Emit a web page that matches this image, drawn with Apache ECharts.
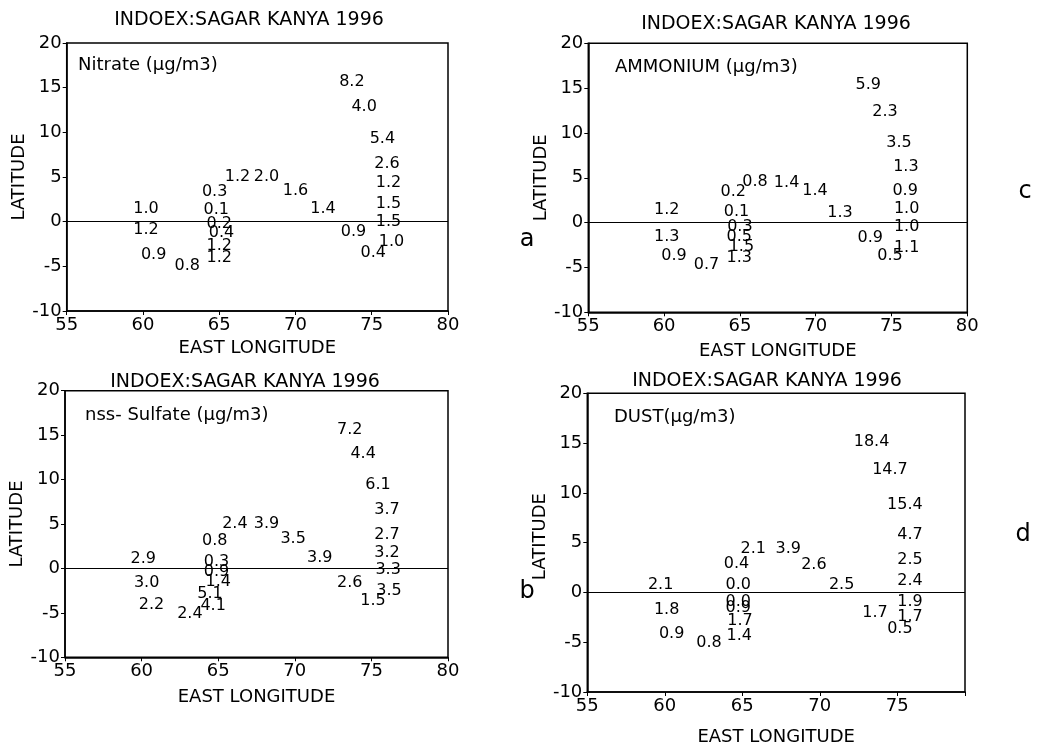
<!DOCTYPE html>
<html>
<head>
<meta charset="utf-8">
<script src="https://cdn.jsdelivr.net/npm/echarts@6/dist/echarts.min.js"></script>
<style>
html,body{margin:0;padding:0;background:#fff;}
#chart{width:1040px;height:747px;}
</style>
</head>
<body>
<div id="chart"></div>
<script>
// ---- Data ----
const panelTitle = 'INDOEX:SAGAR KANYA 1996';
const panelNames = ['Nitrate (\u03bcg/m3)', 'AMMONIUM (\u03bcg/m3)', 'nss- Sulfate (\u03bcg/m3)', 'DUST(\u03bcg/m3)'];
const panelLetters = ['a', 'c', 'b', 'd'];
const xTicks = [55, 60, 65, 70, 75, 80];
const yTicks = [-10, -5, 0, 5, 10, 15, 20];

// Nitrate
const nitrateLon = [73.7, 74.5, 75.7, 76.0, 76.1, 76.1, 76.1, 76.3, 75.1, 73.8, 71.8, 70.0, 68.1, 66.2, 64.7, 64.8, 65.0, 65.15, 65.0, 65.0, 60.2, 60.2, 60.7, 62.9];
const nitrateLat = [15.7, 12.9, 9.3, 6.45, 4.35, 1.97, 0.0, -2.25, -3.5, -1.1, 1.4, 3.5, 5.0, 5.0, 3.35, 1.3, -0.27, -1.3, -2.7, -4.1, 1.4, -0.9, -3.75, -4.9];
const nitrateVal = [8.2, 4.0, 5.4, 2.6, 1.2, 1.5, 1.5, 1.0, 0.4, 0.9, 1.4, 1.6, 2.0, 1.2, 0.3, 0.1, 0.2, 0.4, 1.2, 1.2, 1.0, 1.2, 0.9, 0.8];

// Ammonium
const ammoniumLon = [73.47, 74.57, 75.5, 75.95, 75.9, 76.0, 76.0, 76.0, 74.9, 73.6, 71.6, 69.95, 68.08, 66.0, 64.56, 64.78, 65.0, 64.96, 65.1, 64.96, 60.17, 60.17, 60.65, 62.8];
const ammoniumLat = [15.35, 12.38, 8.9, 6.25, 3.57, 1.49, -0.52, -2.86, -3.72, -1.75, 1.04, 3.57, 4.46, 4.57, 3.46, 1.23, -0.45, -1.56, -2.68, -3.98, 1.41, -1.64, -3.72, -4.72];
const ammoniumVal = [5.9, 2.3, 3.5, 1.3, 0.9, 1.0, 1.0, 1.1, 0.5, 0.9, 1.3, 1.4, 1.4, 0.8, 0.2, 0.1, 0.3, 0.5, 1.5, 1.3, 1.2, 1.3, 0.9, 0.7];

// nss-Sulfate
const sulfateLon = [73.59, 74.46, 75.43, 76.02, 76.02, 76.02, 76.09, 76.15, 75.1, 73.59, 71.63, 69.89, 68.15, 66.09, 64.78, 64.89, 64.89, 65.0, 64.46, 64.67, 60.11, 60.33, 60.65, 63.15];
const sulfateLat = [15.58, 12.88, 9.39, 6.58, 3.76, 1.7, -0.17, -2.54, -3.66, -1.6, 1.14, 3.28, 5.0, 5.0, 3.13, 0.76, -0.36, -1.56, -2.87, -4.22, 1.03, -1.67, -4.11, -5.16];
const sulfateVal = [7.2, 4.4, 6.1, 3.7, 2.7, 3.2, 3.3, 3.5, 1.5, 2.6, 3.9, 3.5, 3.9, 2.4, 0.8, 0.3, 0.9, 1.4, 5.1, 4.1, 2.9, 3.0, 2.2, 2.4];

// Dust
const dustLon = [73.34, 74.53, 75.49, 75.82, 75.82, 75.82, 75.82, 75.82, 75.17, 73.56, 71.41, 69.62, 67.97, 65.71, 64.63, 64.74, 64.74, 64.74, 64.85, 64.8, 59.73, 60.12, 60.44, 62.85];
const dustLat = [15.17, 12.33, 8.83, 5.83, 3.27, 1.17, -0.9, -2.5, -3.67, -2.0, 0.73, 2.73, 4.33, 4.33, 2.83, 0.73, -0.9, -1.55, -2.9, -4.33, 0.73, -1.73, -4.17, -5.07];
const dustVal = [18.4, 14.7, 15.4, 4.7, 2.5, 2.4, 1.9, 1.7, 0.5, 1.7, 2.5, 2.6, 3.9, 2.1, 0.4, 0.0, 0.0, 0.9, 1.7, 1.4, 2.1, 1.8, 0.9, 0.8];

// ---- Layout ----
const FONT = 'DejaVu Sans';
const grids = [
  {left: 66.7, top: 43, width: 381.3, height: 268},
  {left: 588.3, top: 43.3, width: 379, height: 269},
  {left: 65, top: 390.7, width: 383, height: 266.6},
  {left: 587.3, top: 393.3, width: 377.7, height: 300}
];
const xMax = [80, 80, 80, 79.37];
const xNameGap = [28, 30, 31, 36];
const panels = [
  [nitrateLon, nitrateLat, nitrateVal],
  [ammoniumLon, ammoniumLat, ammoniumVal],
  [sulfateLon, sulfateLat, sulfateVal],
  [dustLon, dustLat, dustVal]
];
const titlePos = [[249, 20], [776, 24], [245, 382], [767, 381]];
const namePos = [[78, 65], [615, 67], [85, 415], [614, 417]];
const letterPos = [[527, 240], [1025, 192], [527, 592], [1023, 535]];

const option = {
  backgroundColor: '#fff',
  animation: false,
  textStyle: {fontFamily: FONT, color: '#000'},
  grid: grids.map(g => Object.assign({show: true, borderColor: '#000', borderWidth: 1.5, backgroundColor: 'transparent'}, g)),
  xAxis: grids.map((g, i) => ({
    type: 'value', gridIndex: i, min: xTicks[0], max: xMax[i], interval: 5,
    name: 'EAST LONGITUDE', nameLocation: 'middle', nameGap: xNameGap[i],
    nameTextStyle: {fontFamily: FONT, fontSize: 18, color: '#000'},
    axisLine: {show: true, onZero: false, lineStyle: {color: '#000', width: 1.5}},
    axisTick: {show: true, inside: false, length: 4, lineStyle: {color: '#000'}},
    axisLabel: {fontFamily: FONT, fontSize: 18, color: '#000', margin: 5,
      formatter: v => (xTicks.indexOf(v) >= 0 ? String(v) : '')},
    splitLine: {show: false}
  })),
  yAxis: grids.map((g, i) => ({
    type: 'value', gridIndex: i, min: yTicks[0], max: yTicks[yTicks.length - 1], interval: 5,
    name: 'LATITUDE', nameLocation: 'middle', nameGap: 36, nameRotate: 90,
    nameTextStyle: {fontFamily: FONT, fontSize: 18, color: '#000', padding: [0, 0, 0, i === 3 ? 12 : 0]},
    axisLine: {show: true, onZero: false, lineStyle: {color: '#000', width: 1.5}},
    axisTick: {show: true, inside: false, length: 4, lineStyle: {color: '#000'}},
    axisLabel: {fontFamily: FONT, fontSize: 18, color: '#000', margin: 5},
    splitLine: {show: false}
  })),
  series: panels.map((p, i) => ({
    type: 'scatter', xAxisIndex: i, yAxisIndex: i,
    symbolSize: 0,
    itemStyle: {color: '#000', opacity: 1},
    data: p[0].map((lon, k) => [lon, p[1][k], p[2][k]]),
    label: {show: true, position: 'inside', fontFamily: FONT, fontSize: 16, color: '#000',
      opacity: 1, textBorderWidth: 0,
      formatter: d => d.value[2].toFixed(1)},
    markLine: {silent: true, symbol: 'none', animation: false,
      lineStyle: {color: '#000', type: 'solid', width: 1.2, opacity: 1},
      label: {show: false},
      data: [{yAxis: 0}]}
  })),
  graphic: [].concat(
    titlePos.map((t, i) => ({type: 'text', x: t[0], y: t[1], style: {
      text: panelTitle, align: 'center', verticalAlign: 'middle',
      fontFamily: FONT, fontSize: 19, fill: '#000'}})),
    namePos.map((t, i) => ({type: 'text', x: t[0], y: t[1], style: {
      text: panelNames[i], align: 'left', verticalAlign: 'middle',
      fontFamily: FONT, fontSize: 18, fill: '#000'}})),
    letterPos.map((t, i) => ({type: 'text', x: t[0], y: t[1], style: {
      text: panelLetters[i], align: 'center', verticalAlign: 'middle',
      fontFamily: FONT, fontSize: 24, fill: '#000'}}))
  )
};

const chart = echarts.init(document.getElementById('chart'), null, {renderer: 'canvas'});
chart.setOption(option);
</script>
</body>
</html>
